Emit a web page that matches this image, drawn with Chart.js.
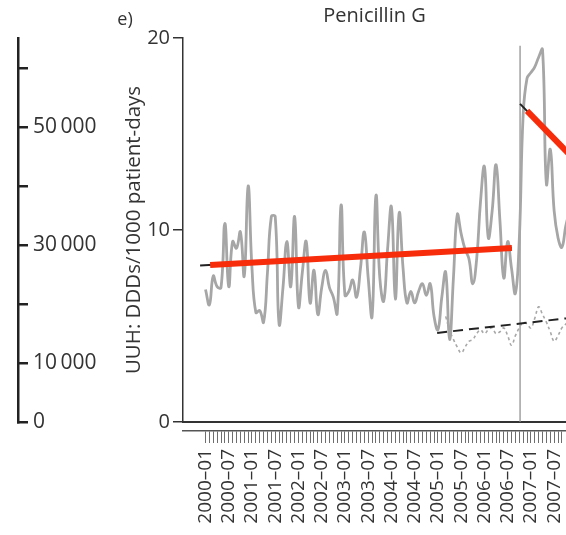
<!DOCTYPE html>
<html>
<head>
<meta charset="utf-8">
<script src="https://cdn.jsdelivr.net/npm/chart.js@4"></script>
<style>
  body { margin: 0; background: #fff; }
  #wrap { width: 566px; height: 535px; }
</style>
</head>
<body>
<div id="wrap"><canvas id="myChart"></canvas></div>
<script>
// month index 0 = 2000-01
const tickLabels = ['2000–01', '2000–07', '2001–01', '2001–07', '2002–01', '2002–07', '2003–01', '2003–07',
  '2004–01', '2004–07', '2005–01', '2005–07', '2006–01', '2006–07', '2007–01', '2007–07'];

// UUH penicillin G, DDDs/1000 patient-days, monthly
const uuhMonthly = [6.9, 6.1, 7.6, 7.05, 7.0, 10.35, 7.05, 9.4, 9.05, 9.9, 7.6, 12.3, 8.0, 5.7, 5.8, 5.2,
  7.8, 10.7, 10.7, 5.1, 7.0, 9.4, 7.05, 10.7, 6.0, 7.8, 9.4, 6.2, 7.9, 5.6, 7.0, 7.9,
  7.0, 6.5, 5.66, 11.3, 6.6, 6.8, 7.4, 6.5, 8.0, 9.9, 7.5, 5.5, 11.8, 7.5, 6.3, 9.0,
  11.2, 6.4, 10.9, 8.0, 6.2, 6.8, 6.2, 6.8, 7.2, 6.6, 7.2, 5.5, 4.8, 6.5, 7.8, 4.3,
  7.5, 10.8, 9.8, 9.0, 8.5, 7.2, 8.5, 11.5, 13.3, 9.6, 11.0, 13.4, 10.5, 7.5, 9.4, 8.0,
  6.7, 9.5, 16.0, 17.9, 18.2, 18.5, 19.0, 19.4, 12.4, 14.2, 11.0, 9.6, 9.1, 10.2, 11.0];

// comparison series (dotted), starts at month 62
const comparisonStart = 62;
const comparisonMonthly = [5.5, 4.8, 4.3, 3.9, 3.6, 3.9, 4.2, 4.3, 4.6, 4.8, 4.6, 4.8, 4.9, 4.6, 4.7, 4.9,
  4.5, 4.0, 4.5, 4.9, 5.2, 5.1, 4.9, 5.4, 6.0, 5.6, 5.2, 4.7, 4.2, 4.5, 4.9, 5.1, 5.3];

// fitted segments [month, value]
const preTrendX = [-1.4, 79.1], preTrendY = [8.15, 9.06];
const preRedX = [1.2, 79.1], preRedY = [8.18, 9.06];
const postTrendX = [81.2, 95], postTrendY = [16.57, 13.72];
const postRedX = [83, 95], postRedY = [16.2, 13.72];
const controlTrendX = [59.8, 95], controlTrendY = [4.64, 5.44];

const interventionMonth = 81.2;
const interventionY = [0, 19.6];

// other panel's axis (cut off at left)
const leftAxisTicks = [0, 10000, 20000, 30000, 40000, 50000, 60000];
const leftAxisLabelled = [0, 10000, 30000, 50000];

const pts = (xs, ys) => xs.map((x, i) => ({x: x, y: ys[i]}));

Chart.defaults.font.family = "'Open Sans', sans-serif";
Chart.defaults.color = '#333';

const ctx = document.getElementById('myChart');

const panelLabel = {
  id: 'panelLabel',
  afterDraw(chart) {
    const c = chart.ctx;
    c.save();
    c.beginPath();
    c.rect(117, 0, 40, 40);
    c.clip();
    c.font = "18px 'Open Sans', sans-serif";
    c.fillStyle = '#333';
    c.textBaseline = 'middle';
    c.fillText('(e)', 112, 20);
    c.restore();
  }
};

const onMain = {xAxisID: 'x', yAxisID: 'y'};

new Chart(ctx, {
  type: 'line',
  data: {
    datasets: [
      { ...onMain, data: pts(preRedX, preRedY), borderColor: '#f72c0b', borderWidth: 6, borderCapStyle: 'butt' },
      { ...onMain, data: pts(postRedX, postRedY), borderColor: '#f72c0b', borderWidth: 6, borderCapStyle: 'butt' },
      { ...onMain, data: pts(preTrendX, preTrendY), borderColor: '#222', borderWidth: 2 },
      { ...onMain, data: pts(postTrendX, postTrendY), borderColor: '#222', borderWidth: 2 },
      { ...onMain, data: pts(controlTrendX, controlTrendY), borderColor: '#222', borderWidth: 2, borderDash: [10, 6] },
      {
        ...onMain,
        data: uuhMonthly.map((v, i) => ({x: i, y: v})),
        borderColor: '#a6a6a6', borderWidth: 2.8, tension: 0.45
      },
      {
        ...onMain,
        data: comparisonMonthly.map((v, i) => ({x: comparisonStart + i, y: v})),
        borderColor: '#a8a8a8', borderWidth: 1.6, borderDash: [3, 3], tension: 0.4
      },
      {
        ...onMain,
        data: interventionY.map(v => ({x: interventionMonth, y: v})),
        borderColor: '#8a8a8a', borderWidth: 1.2
      }
    ]
  },
  options: {
    responsive: true,
    maintainAspectRatio: false,
    animation: false,
    layout: { padding: 0 },
    elements: { point: { radius: 0 } },
    scales: {
      x: {
        type: 'linear', position: 'bottom', weight: 1,
        min: -5.81, max: 93.06,
        afterBuildTicks: s => { s.ticks = uuhMonthly.slice(0, 93).map((_, i) => ({value: i})); },
        grid: { drawOnChartArea: false, tickLength: 12, color: '#6e6e6e', lineWidth: 1 },
        border: { display: true, color: '#555', width: 1.5 },
        ticks: {
          autoSkip: false, minRotation: 90, maxRotation: 90, padding: 6,
          font: { size: 19 }, color: '#333',
          callback: v => (v % 6 === 0 ? tickLabels[v / 6] : '')
        },
        afterFit: s => { s.height = 104; s.paddingLeft = 0; s.paddingRight = 0; }
      },
      xLine: {
        type: 'linear', position: 'bottom', weight: 0,
        min: -5.81, max: 93.06,
        grid: { display: false, drawTicks: false },
        ticks: { display: false },
        border: { display: true, color: '#333', width: 2 },
        afterFit: s => { s.height = 9; s.paddingLeft = 0; s.paddingRight = 0; }
      },
      y: {
        type: 'linear', position: 'left', weight: 1,
        min: 0, max: 20,
        afterBuildTicks: s => { s.ticks = [0, 10, 20].map(v => ({value: v})); },
        grid: { drawOnChartArea: false, tickLength: 10, color: '#333', lineWidth: 1.5 },
        border: { display: true, color: '#333', width: 1.5 },
        ticks: { padding: 3, font: { size: 20 }, color: '#333' },
        title: {
          display: true, text: 'UUH: DDDs/1000 patient-days',
          font: { size: 20.5 }, color: '#333', padding: { top: 104, bottom: 0 }
        },
        afterFit: s => { s.width = 165; s.paddingTop = 0; s.paddingBottom = 0; }
      },
      yLeft: {
        type: 'linear', position: 'left', weight: 2,
        min: 0, max: 65085,
        afterBuildTicks: s => { s.ticks = leftAxisTicks.map(v => ({value: v})); },
        grid: { drawOnChartArea: false, tickLength: -10, color: '#222', lineWidth: 2.5 },
        border: { display: true, color: '#222', width: 2.5 },
        ticks: {
          mirror: true, padding: 15, font: { size: 21 }, color: '#333',
          callback: v => (leftAxisLabelled.includes(v) ? String(v).replace(/(\d)(?=(\d{3})+$)/g, '$1\u2009') : '')
        },
        afterFit: s => { s.width = 18; s.paddingTop = 0; s.paddingBottom = 0; }
      }
    },
    plugins: {
      legend: { display: false },
      tooltip: { enabled: false },
      title: {
        display: true, text: 'Penicillin G', fullSize: false,
        font: { size: 20, weight: 'normal' }, color: '#333',
        padding: { top: 4, bottom: 10 }
      }
    }
  },
  plugins: [panelLabel]
});
</script>
</body>
</html>
